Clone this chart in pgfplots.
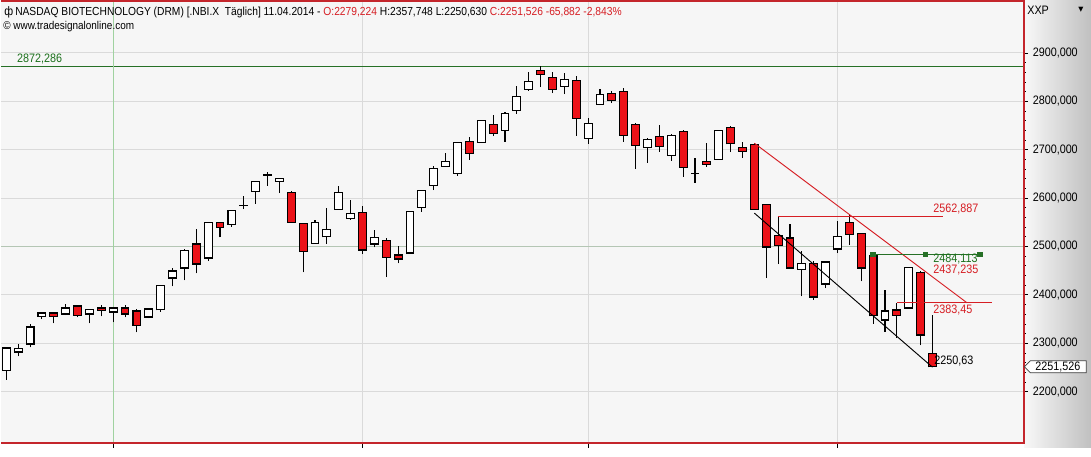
\documentclass[border=0pt]{standalone}
\usepackage{fontspec}
\setmainfont{Liberation Sans}[FakeStretch=0.88]
\newfontfamily\dejavu{DejaVu Sans}
\usepackage{pgfplots}
\usepackage{pgfplotstable}
\pgfplotsset{compat=1.18}
\definecolor{cred}{RGB}{236,18,24}
\definecolor{fred}{RGB}{196,38,44}
\definecolor{lred}{RGB}{214,30,36}
\definecolor{gline}{RGB}{38,112,38}
\definecolor{gtext}{RGB}{28,112,28}
\definecolor{bgc}{RGB}{246,246,246}
\definecolor{gridc}{RGB}{218,218,218}
\newcommand\lab{\fontsize{9.2}{10}\selectfont}
% white (rising) candles: index, low, body min, body max, high
\pgfplotstableread{
i lo bmin bmax hi
0 2224.8 2244.0 2290.3 2291.5
1 2272.9 2282.0 2288.8 2298.5
2 2291.5 2298.5 2333.6 2340.4
3 2350.1 2355.5 2362.5 2363.7
5 2358.4 2360.4 2372.8 2381.1
7 2341.0 2360.4 2369.3 2370.8
9 2343.1 2364.6 2372.8 2372.8
12 2352.2 2354.2 2370.8 2370.8
13 2365.2 2369.3 2418.9 2420.9
14 2417.4 2434.8 2449.2 2455.4
15 2429.8 2455.4 2491.2 2493.8
17 2469.9 2476.1 2548.9 2548.9
19 2541.3 2546.3 2575.2 2575.2
20 2577.2 2584.7 2584.7 2604.7
21 2588.8 2613.6 2635.1 2635.1
22 2626.0 2647.6 2647.6 2654.9
23 2610.3 2635.1 2641.2 2641.2
26 2507.0 2507.0 2550.4 2554.5
27 2505.6 2520.0 2535.9 2579.3
28 2577.2 2577.2 2612.3 2625.3
29 2555.1 2557.8 2569.0 2596.4
31 2498.0 2505.0 2519.4 2534.5
34 2486.4 2486.4 2573.1 2573.1
35 2572.3 2581.4 2616.5 2617.1
36 2616.5 2626.0 2661.9 2666.6
37 2666.0 2666.0 2676.3 2694.1
38 2646.6 2651.6 2715.6 2716.2
40 2715.6 2715.6 2761.0 2761.6
42 2716.8 2740.4 2775.5 2777.5
43 2774.6 2780.8 2810.6 2831.8
44 2822.1 2825.0 2840.7 2860.1
47 2814.7 2831.2 2845.7 2858.1
49 2712.7 2723.8 2754.8 2765.1
50 2794.0 2794.0 2814.7 2825.0
54 2673.5 2704.4 2721.8 2723.8
56 2677.6 2687.9 2730.0 2732.1
58 2632.2 2650.8 2650.8 2682.5
60 2680.5 2680.5 2740.4 2740.4
67 2396.8 2453.3 2465.7 2489.7
69 2414.1 2422.4 2467.8 2467.8
70 2486.4 2494.7 2521.5 2553.1
74 2323.3 2348.0 2366.6 2410.6
76 2372.8 2372.8 2456.7 2458.1
}\wc
% red (falling) candles: index, low, body min, body max, high
\pgfplotstableread{
i lo bmin bmax hi
4 2341.0 2355.5 2362.5 2363.7
6 2353.4 2357.6 2377.0 2379.0
8 2355.5 2367.9 2372.8 2379.0
10 2353.4 2360.4 2372.8 2379.0
11 2322.5 2336.9 2366.6 2370.8
16 2444.3 2463.7 2505.0 2536.6
18 2518.6 2540.1 2548.9 2551.6
24 2550.4 2550.4 2612.3 2615.0
25 2446.3 2489.7 2546.9 2546.9
30 2484.3 2492.6 2571.0 2584.1
32 2436.8 2478.1 2513.2 2517.4
33 2464.9 2474.0 2482.3 2501.5
39 2679.7 2692.9 2717.6 2725.9
41 2728.0 2734.2 2752.7 2771.9
45 2829.2 2856.0 2864.3 2872.286
46 2816.8 2825.0 2849.8 2860.1
48 2729.2 2765.1 2843.6 2851.9
51 2796.1 2802.3 2816.8 2820.9
52 2716.8 2730.0 2820.9 2827.1
53 2661.1 2708.6 2752.7 2754.8
55 2696.2 2706.5 2728.0 2750.7
57 2644.6 2664.0 2736.8 2741.0
59 2665.2 2670.2 2676.3 2713.5
61 2694.9 2712.1 2746.6 2748.6
62 2683.8 2697.0 2705.3 2715.6
63 2577.2 2577.2 2710.0 2713.5
64 2434.8 2498.8 2587.6 2587.6
65 2463.7 2502.9 2522.7 2562.887
66 2455.4 2455.4 2517.4 2546.3
68 2390.0 2395.5 2465.7 2470.5
71 2503.5 2525.6 2548.9 2565.5
72 2427.7 2455.4 2526.2 2528.9
73 2340.4 2356.9 2480.8 2484.113
75 2310.9 2357.6 2368.7 2383.45
77 2295.6 2317.1 2446.3 2448.4
78 2250.63 2251.526 2279.224 2357.748
}\rc
\pgfplotsset{
  wick/.style={draw=none, error bars/.cd, y dir=plus, y explicit, error mark=none,
    error bar style={draw=black, solid, line width=0.8pt}},
  bodyout/.style={draw=none, error bars/.cd, y dir=plus, y explicit, error mark=none,
    error bar style={draw=black, solid, line width=6.7pt, line cap=butt}},
  bodyin/.style={draw=none, error bars/.cd, y dir=plus, y explicit, error mark=none,
    error bar style={draw=#1, solid, line width=5.1pt, line cap=butt}},
}
\tikzset{gridl/.style={draw=gridc, line width=0.75pt}}
\begin{document}
\begin{tikzpicture}
\begin{scope}[x=0.75pt,y=0.75pt]
\fill[white] (0,0) rectangle (1091,448);
\shade[left color={rgb,255:red,248;green,248;blue,248}, right color={rgb,255:red,192;green,192;blue,192}] (1024,0) rectangle (1091,448);
\end{scope}
\begin{axis}[
  at={(0pt,3.75pt)}, anchor=south west,
  scale only axis, width=767.25pt, height=330.75pt,
  xmin=-0.446, xmax=85.63, ymin=2094.72, ymax=3005.30,
  axis background/.style={fill=bgc},
  axis line style={draw=none},
  xtick={9,30,49,70}, xticklabels={},
  ytick={2200,2300,...,2900},
  minor y tick num=4,
  xtick pos=left, ytick pos=right, yticklabel pos=right,
  tick align=outside,
  major tick length=3.75pt, minor tick length=2pt,
  tick style={black, line width=0.6pt},
  scaled y ticks=false,
  yticklabel style={font=\lab, anchor=west, xshift=0pt,
    /pgf/number format/fixed, /pgf/number format/fixed zerofill,
    /pgf/number format/precision=3, /pgf/number format/use comma,
    /pgf/number format/1000 sep={}, /pgf/number format/assume math mode=true},
]
% grid
\addplot[gridl] coordinates {(-0.446,2200) (85.63,2200)};
\addplot[gridl] coordinates {(-0.446,2300) (85.63,2300)};
\addplot[gridl] coordinates {(-0.446,2400) (85.63,2400)};
\addplot[gridl] coordinates {(-0.446,2600) (85.63,2600)};
\addplot[gridl] coordinates {(-0.446,2700) (85.63,2700)};
\addplot[gridl] coordinates {(-0.446,2800) (85.63,2800)};
\addplot[gridl] coordinates {(-0.446,2900) (85.63,2900)};
\addplot[gridl] coordinates {(30,2094.72) (30,3005.30)};
\addplot[gridl] coordinates {(49,2094.72) (49,3005.30)};
\addplot[gridl] coordinates {(70,2094.72) (70,3005.30)};
% reference lines
\addplot[gline, line width=0.9pt] coordinates {(-0.446,2872.286) (85.63,2872.286)};
\addplot[color={rgb,255:red,180;green,198;blue,180}, line width=1pt] coordinates {(-0.446,2500) (85.63,2500)};
\addplot[color={rgb,255:red,160;green,210;blue,160}, line width=0.9pt] coordinates {(9,2094.72) (9,3005.30)};
% candles: wicks, outlines, fills
\addplot[wick] table[x=i, y=lo, y error plus expr=\thisrow{hi}-\thisrow{lo}] {\wc};
\addplot[wick] table[x=i, y=lo, y error plus expr=\thisrow{hi}-\thisrow{lo}] {\rc};
\addplot[bodyout] table[x=i, y expr=\thisrow{bmin}-1.2, y error plus expr=\thisrow{bmax}-\thisrow{bmin}+2.4] {\wc};
\addplot[bodyout] table[x=i, y expr=\thisrow{bmin}-1.2, y error plus expr=\thisrow{bmax}-\thisrow{bmin}+2.4] {\rc};
\addplot[bodyin=white] table[x=i, y expr=\thisrow{bmin}+1.2, y error plus expr={max(\thisrow{bmax}-\thisrow{bmin}-2.4,0)}] {\wc};
\addplot[bodyin=cred] table[x=i, y expr=\thisrow{bmin}+1.2, y error plus expr={max(\thisrow{bmax}-\thisrow{bmin}-2.4,0)}] {\rc};
% drawing tools
\addplot[lred, line width=0.7pt] coordinates {(63,2713.5) (80.9,2383.8)};
\addplot[black, line width=0.7pt] coordinates {(63,2569.0) (78,2250.63)};
\addplot[lred, line width=0.8pt] coordinates {(65,2562.887) (78.92,2562.887)};
\addplot[lred, line width=0.8pt] coordinates {(75,2383.45) (82.99,2383.45)};
\addplot[gline, line width=0.8pt, mark=square*, mark size=1.6pt, mark options={fill=gline}] coordinates {(73,2484.113) (77.44,2484.113) (82,2484.113)};
% labels
\node[anchor=west, text=gtext, font=\lab, inner sep=0pt] at (axis cs:0.9,2886.6) {2872,286};
\node[anchor=west, text=lred, font=\lab, inner sep=0pt] at (axis cs:78.06,2576.9) {2562,887};
\node[anchor=west, text=gtext, font=\lab, inner sep=0pt] at (axis cs:78.06,2473.6) {2484,113};
\node[anchor=west, text=lred, font=\lab, inner sep=0pt] at (axis cs:78.06,2450.9) {2437,235};
\node[anchor=west, text=lred, font=\lab, inner sep=0pt] at (axis cs:78.06,2368.3) {2383,45};
\node[anchor=west, text=black, font=\lab, inner sep=0pt] at (axis cs:78.14,2263.0) {2250,63};
\coordinate (pb) at (axis cs:85.63,2251.526);
\end{axis}
\begin{scope}[x=0.75pt,y=0.75pt]
\draw[fred, line width=1.5pt] (0,447) -- (1023.5,447) -- (1023.5,5) -- (0,5);
\draw[fill=white, draw=black!75, line width=0.6pt] ([xshift=1pt]pb) -- ++(4.5pt,4.5pt) -- ++(42pt,0) -- ++(0,-9pt) -- ++(-42pt,0) -- cycle;
\node[anchor=west, font=\lab, inner sep=0pt] at ([xshift=9pt]pb) {2251,526};
\node[anchor=west, font=\lab, inner sep=0pt] at (3,436) {ф};
\node[anchor=west, font=\fontsize{8.75}{10}\selectfont, inner sep=0pt] at (14,436) {NASDAQ BIOTECHNOLOGY (DRM) [.NBI.X\ \ Täglich] 11.04.2014 - \textcolor{lred}{O:2279,224} H:2357,748 L:2250,630 \textcolor{lred}{C:2251,526 -65,882 -2,843\%}};
\node[anchor=west, font=\fontsize{8.5}{10}\selectfont, inner sep=0pt] at (2,421) {© www.tradesignalonline.com};
\node[anchor=west, font=\lab, inner sep=0pt] at (1027,438) {XXP};
\node[anchor=center, font=\dejavu\fontsize{5}{6}\selectfont, inner sep=0pt] at (1081,438) {▼};
\end{scope}
\end{tikzpicture}
\end{document}
